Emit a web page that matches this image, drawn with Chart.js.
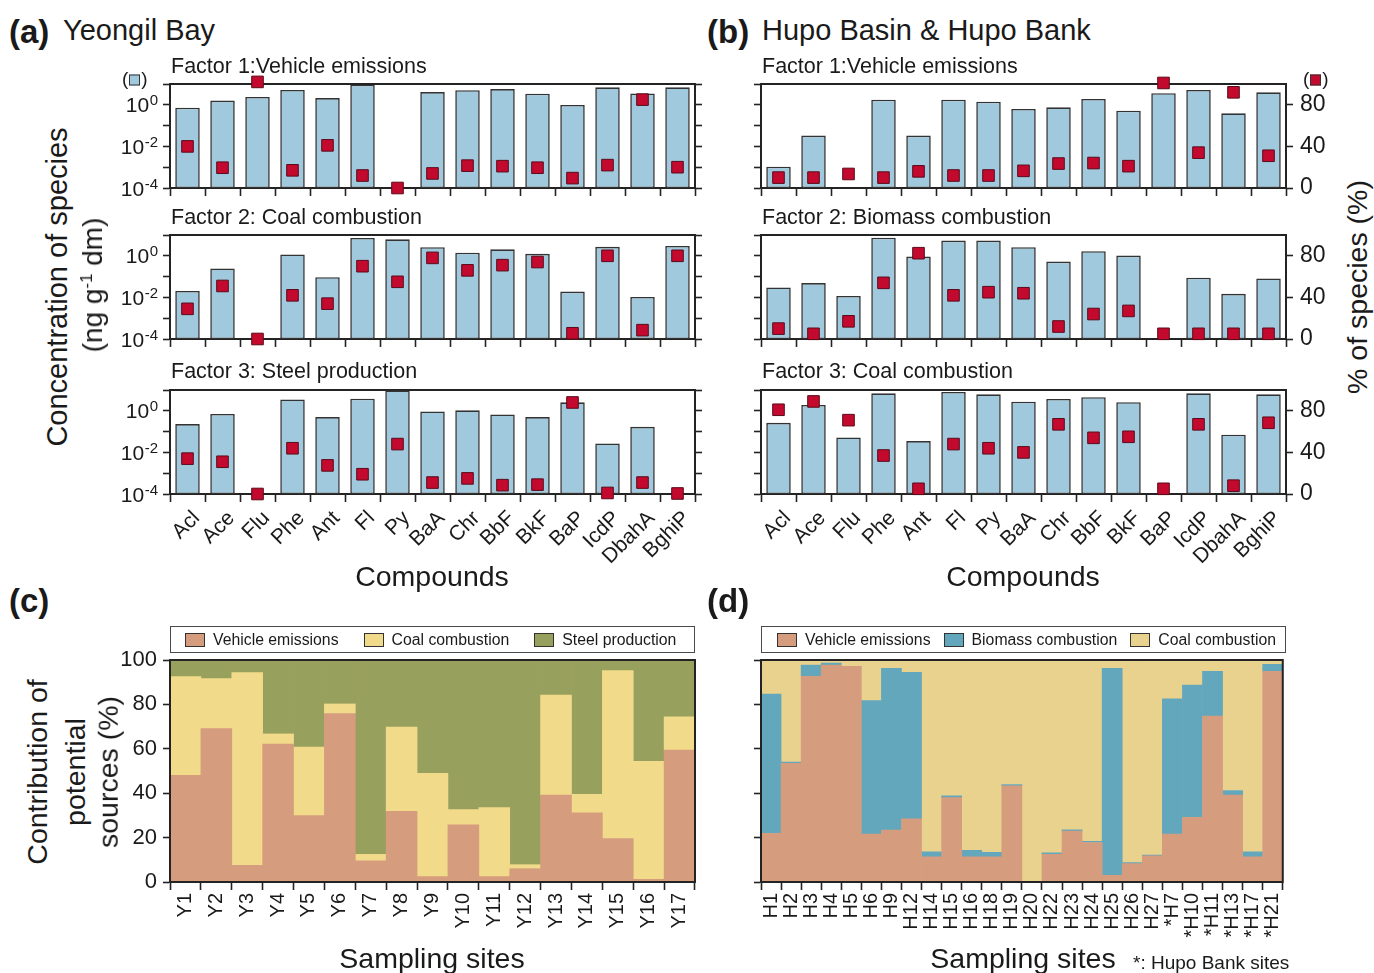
<!DOCTYPE html>
<html>
<head>
<meta charset="utf-8">
<title>PAH source profiles and contributions</title>
<script src="https://cdn.jsdelivr.net/npm/chart.js@4.4.1/dist/chart.umd.min.js"></script>
<style>
html,body{margin:0;padding:0;background:#fff;}
#fig{position:relative;width:1374px;height:973px;overflow:hidden;font-family:"Liberation Sans",Arial,Helvetica,sans-serif;color:#1a1a1a;}
#fig canvas{position:absolute;}
.lbl{position:absolute;white-space:nowrap;line-height:1;}
.legend{position:absolute;box-sizing:border-box;border:1.5px solid #4a4a4a;display:flex;align-items:center;font-size:15.8px;white-space:nowrap;}
.legend .item{display:flex;align-items:center;}
.legend .sw{display:inline-block;width:18px;height:12px;border:1.2px solid #333;margin-right:8px;}
.mk{display:inline-block;width:11px;height:11px;border:1.5px solid #333;box-sizing:border-box;margin:0 1px;vertical-align:-1px;}
sup{font-size:60%;vertical-align:0.6em;line-height:0;}
</style>
</head>
<body>
<div id="fig"></div>
<script>
// ---- compounds and tick definitions ----
const compounds = ['Acl','Ace','Flu','Phe','Ant','Fl','Py','BaA','Chr','BbF','BkF','BaP','IcdP','DbahA','BghiP'];
const logTickExps = [-4, -3, -2, -1, 0, 1];
const logLabelExps = [-4, -2, 0];
const pctTicks = [0, 20, 40, 60, 80, 100];
const pctLabels = [0, 40, 80];
const shareTicks = [0, 20, 40, 60, 80, 100];

// ---- Yeongil Bay factor profiles: concentration (ng/g dm) and % of species ----
const ygVehicleConc = [0.72, 1.6, 2.4, 5.2, 2.1, 9.3, null, 4.1, 5.0, 5.7, 3.4, 0.98, 6.9, 3.5, 6.9];
const ygVehiclePct  = [40, 19.5, 102, 17, 41, 12, 0, 14, 21.5, 21, 19.5, 9.5, 22, 85, 20];
const ygCoalConc    = [0.0205, 0.245, null, 1.17, 0.093, 7.2, 6.2, 2.6, 1.4, 2.05, 1.25, 0.019, 2.7, 0.0105, 3.0];
const ygCoalPct     = [29, 51, 0, 42, 34, 70, 55, 78, 66, 71, 74, 5.5, 80, 8.5, 80];
const ygSteelConc   = [0.23, 0.70, null, 3.5, 0.50, 3.8, 9.7, 0.93, 1.05, 0.67, 0.50, 2.55, 0.027, 0.17, null];
const ygSteelPct    = [34, 31, 0, 44, 27.5, 19, 48, 11, 15, 8.5, 9, 88, 1, 11, 0.5];

// ---- Hupo Basin & Hupo Bank factor profiles ----
const hpVehicleConc = [0.00105, 0.033, null, 1.76, 0.033, 1.76, 1.41, 0.63, 0.76, 1.9, 0.52, 3.6, 5.2, 0.39, 4.0];
const hpVehiclePct  = [10, 10, 13.5, 10, 16, 12, 12, 16.5, 23.5, 24, 21, 101, 34, 92, 31];
const hpBiomassConc = [0.030, 0.049, 0.0118, 7.4, 0.92, 5.4, 5.4, 2.6, 0.53, 1.66, 1.03, null, 0.089, 0.0148, 0.082];
const hpBiomassPct  = [10, 5, 17, 54, 82.5, 42, 45, 44, 12, 24, 27, 5, 5, 5, 5];
const hpCoalConc    = [0.265, 1.92, 0.052, 6.9, 0.035, 8.0, 6.2, 2.75, 3.7, 4.5, 2.6, null, 6.9, 0.071, 6.2];
const hpCoalPct     = [81, 89, 71, 37, 5, 48, 44, 40, 67, 54, 55, 5, 67, 8, 68.5];

// ---- source contributions per sampling site (%) ----
const sitesY    = ['Y1','Y2','Y3','Y4','Y5','Y6','Y7','Y8','Y9','Y10','Y11','Y12','Y13','Y14','Y15','Y16','Y17'];
const ycVehicle = [48.1, 69.1, 7.5, 62.1, 29.9, 75.9, 9.5, 31.8, 2.4, 25.8, 2.4, 6.0, 39.1, 31.2, 19.6, 1.2, 59.4];
const ycCoal    = [44.4, 22.5, 86.8, 4.6, 30.9, 4.3, 3.0, 38.0, 46.6, 6.8, 31.1, 1.8, 45.1, 8.3, 75.6, 53.1, 15.0];
const ycSteel   = [7.5, 8.4, 5.7, 33.3, 39.2, 19.8, 87.5, 30.2, 51.0, 67.4, 66.5, 92.2, 15.8, 60.5, 4.8, 45.7, 25.6];

const sitesH    = ['H1','H2','H3','H4','H5','H6','H9','H12','H14','H15','H16','H18','H19','H20','H22','H23','H24','H25','H26','H27','*H7','*H10','*H11','*H13','*H17','*H21'];
const hdVehicle = [21.9, 53.5, 92.6, 97.7, 97.1, 21.6, 23.4, 28.4, 11.3, 38.0, 11.3, 11.3, 43.3, 0, 12.5, 22.9, 17.8, 3.0, 8.3, 11.8, 21.6, 29.1, 74.7, 39.2, 11.3, 94.9];
const hdBiomass = [62.7, 0.5, 5.1, 0.9, 0, 60.1, 72.8, 66.0, 2.3, 0.8, 3.0, 2.1, 0.6, 0.3, 0.6, 0.6, 0.5, 93.2, 0.4, 0.3, 60.9, 59.6, 20.2, 2.0, 2.3, 3.1];
const hdCoal    = [15.4, 46.0, 2.3, 1.4, 2.9, 18.3, 3.8, 5.6, 86.4, 61.2, 85.7, 86.6, 56.1, 99.7, 86.9, 76.5, 81.7, 3.8, 91.3, 87.9, 17.5, 11.3, 5.1, 58.8, 86.4, 2.0];

// ---- styling ----
const FONT = '"Liberation Sans", Arial, Helvetica, sans-serif';
const INK = '#1a1a1a';
const AXIS = '#232323';
const BAR_BLUE = '#a1c9dd';
const MARK_RED = '#c3092e';
const C_VEHICLE = '#d59c7e';
const C_COAL_Y = '#f1da89';
const C_STEEL = '#98a05d';
const C_BIOMASS = '#63a7bc';
const C_COAL_H = '#e9d28e';

const fig = document.getElementById('fig');

function makeCanvas(plot, m) {
  const [x0, y0, x1, y1] = plot;
  const c = document.createElement('canvas');
  const w = x1 - x0 + m.l + m.r, h = y1 - y0 + m.t + m.b;
  c.width = w; c.height = h;
  c.style.left = (x0 - m.l) + 'px';
  c.style.top = (y0 - m.t) + 'px';
  c.style.width = w + 'px';
  c.style.height = h + 'px';
  fig.appendChild(c);
  return c;
}

// box around the plotting area
function strokeFrame(chart) {
  const {ctx, chartArea: a} = chart;
  ctx.save();
  ctx.strokeStyle = AXIS;
  ctx.lineWidth = 2;
  ctx.strokeRect(a.left, a.top, a.right - a.left, a.bottom - a.top);
  ctx.restore();
}
const framePlugin = {
  id: 'frame',
  beforeDatasetsDraw(chart, args, o) { if (!o.front) strokeFrame(chart); },
  afterDatasetsDraw(chart, args, o) { if (o.front) strokeFrame(chart); }
};

// power-of-ten labels with raised exponents on the concentration axis
const logLabelPlugin = {
  id: 'logLabels',
  afterDraw(chart, args, o) {
    if (!o.show) return;
    const s = chart.scales.yl, ctx = chart.ctx;
    ctx.save();
    ctx.fillStyle = INK;
    ctx.textAlign = 'left';
    ctx.textBaseline = 'alphabetic';
    logLabelExps.forEach(e => {
      const y = s.getPixelForValue(Math.pow(10, e));
      const base = '10', ex = String(e);
      ctx.font = '21px ' + FONT;
      const bw = ctx.measureText(base).width;
      ctx.font = '15px ' + FONT;
      const ew = ctx.measureText(ex).width;
      const xEnd = s.right - 12;
      ctx.font = '21px ' + FONT;
      ctx.fillText(base, xEnd - ew - bw - 0.5, y + 7.5);
      ctx.font = '15px ' + FONT;
      ctx.fillText(ex, xEnd - ew, y + 0.5);
    });
    ctx.restore();
  }
};

const tickGrid = {display: true, drawOnChartArea: false, drawTicks: true, tickLength: 7, tickColor: AXIS, tickWidth: 1.6, color: AXIS};
const axisBorder = {display: true, color: AXIS, width: 2};

function profileChart(plot, conc, pct, cfg) {
  const m = {l: 64, r: 52, t: 24, b: cfg.xLabels ? 96 : 26};
  const canvas = makeCanvas(plot, m);
  return new Chart(canvas, {
    type: 'bar',
    data: {
      labels: compounds,
      datasets: [
        {type: 'line', label: '% of species', data: pct, yAxisID: 'yr', showLine: false,
         pointStyle: 'rect', pointRadius: 8.2, pointHoverRadius: 8.2,
         pointBackgroundColor: MARK_RED, pointBorderColor: '#5a0b1a', pointBorderWidth: 1,
         clip: false, order: 0},
        {type: 'bar', label: 'Concentration', data: conc, yAxisID: 'yl',
         backgroundColor: BAR_BLUE, borderColor: '#333', borderWidth: 1.6, borderSkipped: false,
         barPercentage: 0.7, categoryPercentage: 1, order: 1}
      ]
    },
    options: {
      responsive: false, animation: false, devicePixelRatio: 1, events: [],
      layout: {padding: {top: m.t, left: 0, right: 0, bottom: 0}},
      plugins: {legend: {display: false}, tooltip: {enabled: false},
                frame: {front: false}, logLabels: {show: !!cfg.logLabels}},
      scales: {
        x: {type: 'category', position: 'bottom', offset: true,
            grid: Object.assign({}, tickGrid, {offset: true, tickLength: 8}),
            border: axisBorder,
            ticks: {display: !!cfg.xLabels, autoSkip: false, minRotation: 45, maxRotation: 45,
                    padding: 4, labelOffset: 9, color: INK, font: {family: FONT, size: 21}},
            afterFit: s => { s.height = m.b; }},
        yl: {type: 'logarithmic', position: 'left',
             min: Math.pow(10, logTickExps[0]), max: Math.pow(10, logTickExps[logTickExps.length - 1]),
             afterBuildTicks: s => { s.ticks = logTickExps.map(e => ({value: Math.pow(10, e)})); },
             ticks: {display: false},
             grid: tickGrid, border: axisBorder,
             afterFit: s => { s.width = m.l; }},
        yr: {type: 'linear', position: 'right', min: 0, max: 100,
             afterBuildTicks: s => { s.ticks = pctTicks.map(v => ({value: v})); },
             ticks: {display: !!cfg.pctLabels, padding: 7, color: INK, font: {family: FONT, size: 23},
                     callback: v => pctLabels.includes(v) ? String(v) : ''},
             grid: tickGrid, border: axisBorder,
             afterFit: s => { s.width = m.r; }}
      }
    },
    plugins: [framePlugin, logLabelPlugin]
  });
}

function shareChart(plot, labels, series, cfg) {
  const m = {l: 70, r: 14, t: 22, b: 72};
  const canvas = makeCanvas(plot, m);
  const chart = new Chart(canvas, {
    type: 'bar',
    data: {
      labels: labels,
      datasets: series.map(sr => ({label: sr.label, data: sr.data, backgroundColor: sr.color,
                                   borderWidth: 0, barPercentage: 1, categoryPercentage: 1}))
    },
    options: {
      responsive: false, animation: false, devicePixelRatio: 1, events: [],
      layout: {padding: {top: m.t, left: 0, right: m.r, bottom: 0}},
      plugins: {legend: {display: false}, tooltip: {enabled: false}, frame: {front: true},
                logLabels: {show: false}},
      scales: {
        x: {stacked: true, offset: true,
            grid: Object.assign({}, tickGrid, {offset: true, tickLength: 8}),
            border: axisBorder,
            ticks: {autoSkip: false, minRotation: 90, maxRotation: 90, padding: 3, color: INK,
                    font: {family: FONT, size: cfg.xFont}},
            afterFit: s => { s.height = m.b; }},
        y: {stacked: true, min: 0, max: 100,
            afterBuildTicks: s => { s.ticks = shareTicks.map(v => ({value: v})); },
            ticks: {display: !!cfg.yLabels, padding: 6, color: INK, font: {family: FONT, size: 22}},
            grid: tickGrid, border: axisBorder,
            afterFit: s => { s.width = m.l; }}
      }
    },
    plugins: [framePlugin]
  });
  // boxed legend built from the chart's datasets
  const lg = document.createElement('div');
  lg.className = 'legend';
  const [x0, , x1] = plot;
  lg.style.left = x0 + 'px';
  lg.style.top = cfg.legendTop + 'px';
  lg.style.width = (x1 - x0) + 'px';
  lg.style.height = '27px';
  lg.style.paddingLeft = cfg.legendPad + 'px';
  lg.style.gap = cfg.legendGap + 'px';
  chart.data.datasets.forEach(ds => {
    const it = document.createElement('span');
    it.className = 'item';
    const sw = document.createElement('span');
    sw.className = 'sw';
    sw.style.background = ds.backgroundColor;
    it.appendChild(sw);
    it.appendChild(document.createTextNode(ds.label));
    lg.appendChild(it);
  });
  fig.appendChild(lg);
  return chart;
}

// ---- panel (a): Yeongil Bay ----
profileChart([170, 84, 695, 188], ygVehicleConc, ygVehiclePct, {logLabels: true});
profileChart([170, 235, 695, 339], ygCoalConc, ygCoalPct, {logLabels: true});
profileChart([170, 390, 695, 494], ygSteelConc, ygSteelPct, {logLabels: true, xLabels: true});

// ---- panel (b): Hupo Basin & Hupo Bank ----
profileChart([761, 84, 1286, 188], hpVehicleConc, hpVehiclePct, {pctLabels: true});
profileChart([761, 235, 1286, 339], hpBiomassConc, hpBiomassPct, {pctLabels: true});
profileChart([761, 390, 1286, 494], hpCoalConc, hpCoalPct, {pctLabels: true, xLabels: true});

// ---- panel (c): Yeongil Bay source contributions ----
shareChart([170, 660, 695, 882], sitesY, [
  {label: 'Vehicle emissions', data: ycVehicle, color: C_VEHICLE},
  {label: 'Coal combustion', data: ycCoal, color: C_COAL_Y},
  {label: 'Steel production', data: ycSteel, color: C_STEEL}
], {yLabels: true, xFont: 20, legendTop: 626, legendPad: 14, legendGap: 25});

// ---- panel (d): Hupo Basin & Hupo Bank source contributions ----
shareChart([761, 660, 1286, 882], sitesH, [
  {label: 'Vehicle emissions', data: hdVehicle, color: C_VEHICLE},
  {label: 'Biomass combustion', data: hdBiomass, color: C_BIOMASS},
  {label: 'Coal combustion', data: hdCoal, color: C_COAL_H}
], {yLabels: false, xFont: 20, legendTop: 626, legendPad: 15, legendGap: 13});

// ---- text ----
function addText(html, x, y, size, opt) {
  opt = opt || {};
  const d = document.createElement('div');
  d.className = 'lbl';
  d.innerHTML = html;
  d.style.fontSize = size + 'px';
  d.style.left = x + 'px';
  d.style.top = y + 'px';
  if (opt.bold) d.style.fontWeight = 'bold';
  let tf = opt.center ? 'translate(-50%,-50%)' : 'translate(0,-50%)';
  if (opt.rotate) tf += ' rotate(-90deg)';
  d.style.transform = tf;
  fig.appendChild(d);
  return d;
}

addText('(a)', 9, 31, 33, {bold: true});
addText('Yeongil Bay', 63, 30, 29);
addText('(b)', 707, 31, 33, {bold: true});
addText('Hupo Basin &amp; Hupo Bank', 762, 30, 29);

addText('Factor 1:Vehicle emissions', 171, 67, 21.5);
addText('Factor 2: Coal combustion', 171, 218, 21.5);
addText('Factor 3: Steel production', 171, 372, 21.5);
addText('Factor 1:Vehicle emissions', 762, 67, 21.5);
addText('Factor 2: Biomass combustion', 762, 218, 21.5);
addText('Factor 3: Coal combustion', 762, 372, 21.5);

addText('(<span class="mk" style="background:' + BAR_BLUE + '"></span>)', 122, 78, 19);
addText('(<span class="mk" style="background:' + MARK_RED + '"></span>)', 1303, 78, 19);

addText('Concentration of species', 57, 287, 29, {center: true, rotate: true});
addText('(ng g<sup>-1</sup> dm)', 93, 285, 28, {center: true, rotate: true});
addText('% of species (%)', 1357, 287, 28.5, {center: true, rotate: true});

addText('Compounds', 432, 576, 28.5, {center: true});
addText('Compounds', 1023, 576, 28.5, {center: true});

addText('(c)', 9, 600, 33, {bold: true});
addText('(d)', 707, 600, 33, {bold: true});

addText('Contribution of', 37, 772, 28.5, {center: true, rotate: true});
addText('potential', 75, 772, 28.5, {center: true, rotate: true});
addText('sources (%)', 108, 772, 28.5, {center: true, rotate: true});

addText('Sampling sites', 432, 958, 28.5, {center: true});
addText('Sampling sites', 1023, 958, 28.5, {center: true});
addText('*: Hupo Bank sites', 1133, 962, 19);
</script>
</body>
</html>
